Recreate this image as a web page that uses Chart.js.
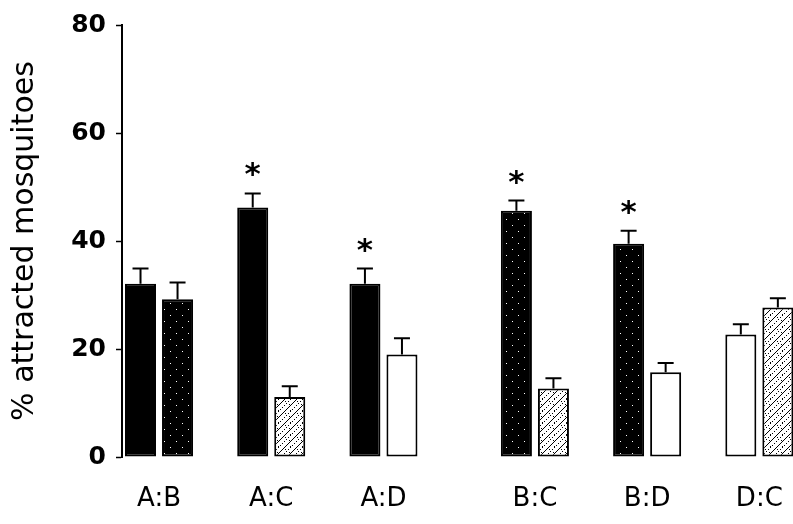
<!DOCTYPE html>
<html>
<head>
<meta charset="utf-8">
<script src="https://cdn.jsdelivr.net/npm/chart.js@4/dist/chart.umd.min.js"></script>
<style>
  html, body { margin: 0; padding: 0; background: #fff; }
  #wrap { width: 793px; height: 524px; }
</style>
</head>
<body>
<div id="wrap"><canvas id="c" width="793" height="524"></canvas></div>
<script>
// ---- data ----
const categories = ['A:B', 'A:C', 'A:D', 'B:C', 'B:D', 'D:C'];
const firstValues = [32.1, 46.2, 32.1, 45.6, 39.5, 22.7];
const firstErrors = [2.8, 2.6, 2.8, 1.9, 2.4, 1.9];
const secondValues = [29.2, 11.1, 19.0, 12.7, 15.7, 27.7];
const secondErrors = [3.1, 2.0, 3.0, 1.9, 1.7, 1.7];
const firstSignificant = [false, true, true, true, true, false];
const secondSignificant = [false, false, false, false, false, false];
const yTicks = [0, 20, 40, 60, 80];

// ---- layout (not data) ----
const extraGapAfter = 2;     // wider gap after the A:D group
const extraGapSize = 0.35;
const positions = categories.map((_, i) => i + (i > extraGapAfter ? extraGapSize : 0));

const canvas = document.getElementById('c');
const ctx0 = canvas.getContext('2d');

function makePattern(kind) {
  const c = document.createElement('canvas');
  c.width = 12; c.height = 12;
  const g = c.getContext('2d');
  if (kind === 'B') {
    g.fillStyle = '#000'; g.fillRect(0, 0, 12, 12);
    g.fillStyle = '#fff';
    [[2, 3], [8, 9]].forEach(p => g.fillRect(p[0], p[1], 1, 1));
  } else if (kind === 'C') {
    g.fillStyle = '#fff'; g.fillRect(0, 0, 12, 12);
    g.fillStyle = '#000';
    for (let k = 0; k < 12; k++) { g.fillRect(k, 11 - k, 1, 1); }
    for (let k = 0; k < 12; k += 2) { g.fillRect((k + 6) % 12, 11 - k, 1, 1); }
    [[2, 2], [9, 5], [1, 8]].forEach(p => g.fillRect(p[0], p[1], 1, 1));
  } else if (kind === 'D') {
    g.fillStyle = '#fff'; g.fillRect(0, 0, 12, 12);
  } else {
    g.fillStyle = '#000'; g.fillRect(0, 0, 12, 12);
  }
  return ctx0.createPattern(c, 'repeat');
}
const fills = { A: makePattern('A'), B: makePattern('B'), C: makePattern('C'), D: makePattern('D') };

const firstFill = categories.map(c => fills[c.split(':')[0]]);
const secondFill = categories.map(c => fills[c.split(':')[1]]);

const errPlugin = {
  id: 'errbars',
  afterDatasetsDraw(chart) {
    const ctx = chart.ctx;
    const y = chart.scales.y;
    chart.data.datasets.forEach((ds, di) => {
      const meta = chart.getDatasetMeta(di);
      meta.data.forEach((bar, i) => {
        const top = y.getPixelForValue(ds.data[i].y + ds.errors[i]);
        ctx.save();
        ctx.strokeStyle = '#000';
        ctx.lineWidth = 2;
        ctx.beginPath();
        ctx.moveTo(bar.x, bar.y);
        ctx.lineTo(bar.x, top);
        ctx.moveTo(bar.x - 8, top);
        ctx.lineTo(bar.x + 8, top);
        ctx.stroke();
        if (ds.sig[i]) {
          ctx.fillStyle = '#000';
          ctx.font = 'bold 31px "DejaVu Sans"';
          ctx.textAlign = 'center';
          ctx.textBaseline = 'alphabetic';
          ctx.fillText('*', bar.x, top - 9);
        }
        ctx.restore();
      });
    });
  }
};

new Chart(canvas, {
  type: 'bar',
  data: {
    datasets: [
      {
        data: positions.map((p, i) => ({ x: p, y: firstValues[i] })),
        errors: firstErrors, sig: firstSignificant,
        backgroundColor: firstFill, borderColor: '#000', borderWidth: 2, borderSkipped: false
      },
      {
        data: positions.map((p, i) => ({ x: p, y: secondValues[i] })),
        errors: secondErrors, sig: secondSignificant,
        backgroundColor: secondFill, borderColor: '#000', borderWidth: 2, borderSkipped: false
      }
    ]
  },
  options: {
    responsive: false,
    animation: false,
    devicePixelRatio: 1,
    categoryPercentage: 0.66,
    barPercentage: 0.838,
    layout: { padding: { top: 24, right: 0, bottom: 0, left: 0 } },
    plugins: { legend: { display: false }, tooltip: { enabled: false } },
    scales: {
      x: {
        type: 'linear',
        offset: false,
        min: -0.33,
        max: 5.65,
        afterBuildTicks: s => { s.ticks = positions.map(v => ({ value: v })); },
        afterFit: s => { s.height = 67; s.paddingLeft = 0; s.paddingRight = 0; },
        border: { display: false },
        grid: { display: false, drawTicks: false, offset: false },
        ticks: {
          autoSkip: false, maxRotation: 0, padding: 27, color: '#000',
          font: { family: '"DejaVu Sans"', size: 26 },
          callback: (v, i) => categories[i]
        }
      },
      y: {
        min: 0, max: 80,
        afterBuildTicks: s => { s.ticks = yTicks.map(v => ({ value: v })); },
        afterFit: s => { s.width = 122; },
        border: { display: true, color: '#000', width: 2 },
        grid: { drawOnChartArea: false, tickLength: 6, color: '#000', tickWidth: 1.5 },
        ticks: { padding: 10, color: '#000', font: { family: '"DejaVu Sans"', size: 25, weight: 'bold' } },
        title: {
          display: true, text: '% attracted mosquitoes', color: '#000',
          font: { family: '"DejaVu Sans"', size: 30 }, padding: { top: 7, bottom: 0 }
        }
      }
    }
  },
  plugins: [errPlugin]
});
</script>
</body>
</html>
